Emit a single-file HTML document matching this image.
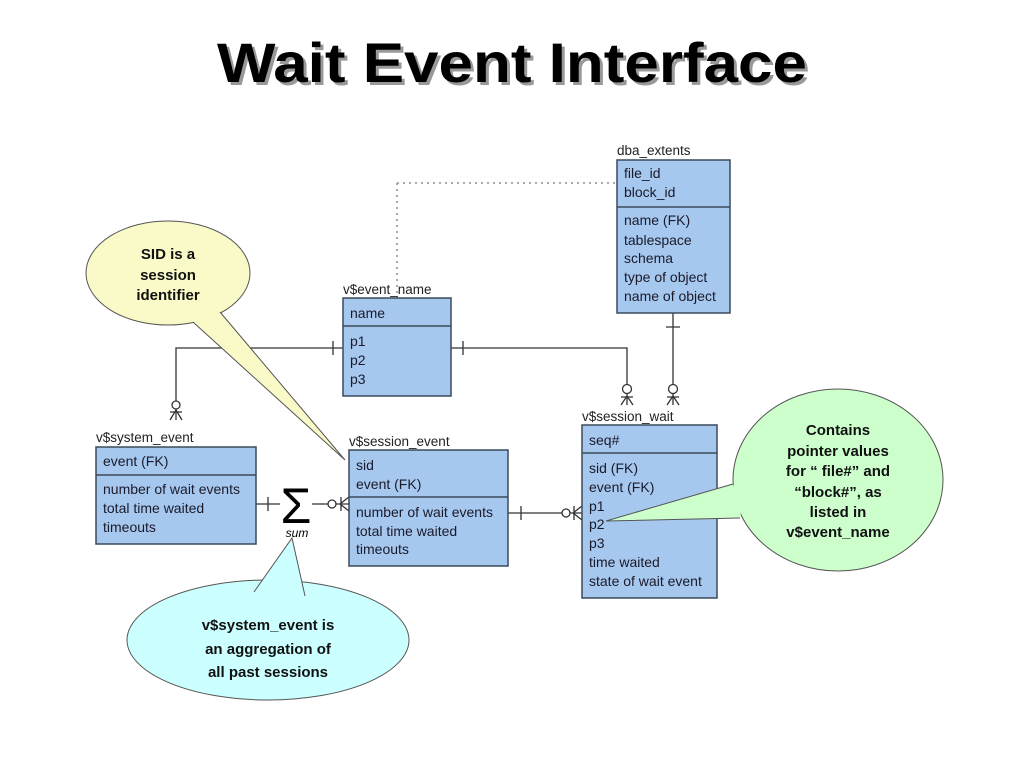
<!DOCTYPE html>
<html><head><meta charset="utf-8"><style>
html,body{margin:0;padding:0;background:#fff;}
svg{display:block;}
text{font-family:"Liberation Sans",sans-serif;}
.t{font-size:14px;fill:#1a1a2a;}
.l{font-size:13.5px;fill:#222;}
.b{fill:#a6c8ef;stroke:#3a4a5a;stroke-width:1.5;}
.ln{stroke:#333;stroke-width:1.3;fill:none;}
.c{font-size:15px;font-weight:bold;fill:#111;text-anchor:middle;}
</style></head><body>
<svg width="1024" height="768" viewBox="0 0 1024 768" xmlns="http://www.w3.org/2000/svg">
<text x="515" y="85" font-size="56" font-weight="bold" fill="#999" text-anchor="middle" textLength="590" lengthAdjust="spacingAndGlyphs">Wait Event Interface</text>
<text x="512" y="82" font-size="56" font-weight="bold" fill="#000" text-anchor="middle" textLength="590" lengthAdjust="spacingAndGlyphs">Wait Event Interface</text>

<!-- dotted -->
<path d="M397,183 H617 M397,183 V298" stroke="#aaa" stroke-width="2" stroke-dasharray="2,4" fill="none"/>

<!-- connectors -->
<path class="ln" d="M343,348 H176 V420 M333,341 V355 M170,420 L176,410 L182,420 M170,412 H182"/>
<circle cx="176" cy="405" r="4" fill="#fff" stroke="#333" stroke-width="1.3"/>
<path class="ln" d="M451,348 H627 V405 M463,341 V355 M621,397 H633"/>
<circle cx="627" cy="389" r="4.5" fill="#fff" stroke="#333" stroke-width="1.3"/>
<path class="ln" d="M621,405 L627,396 L633,405"/>
<path class="ln" d="M673,313 V405 M666,327 H680 M667,397 H679"/>
<circle cx="673" cy="389" r="4.5" fill="#fff" stroke="#333" stroke-width="1.3"/>
<path class="ln" d="M667,405 L673,396 L679,405"/>
<path class="ln" d="M256,504 H280 M312,504 H349 M268,497 V511 M349,497 L340,504 L349,511 M341,497 V511"/>
<circle cx="332" cy="504" r="4" fill="#fff" stroke="#333" stroke-width="1.3"/>
<text x="296" y="523" font-size="50" text-anchor="middle" font-family="Liberation Serif,serif">Σ</text>
<text x="297" y="537" font-size="12" font-style="italic" text-anchor="middle">sum</text>
<path class="ln" d="M508,513 H582 M521,506 V520 M582,506 L573,513 L582,520 M574,506 V520"/>
<circle cx="566" cy="513" r="4" fill="#fff" stroke="#333" stroke-width="1.3"/>

<!-- dba_extents -->
<text class="l" x="617" y="155">dba_extents</text>
<rect class="b" x="617" y="160" width="113" height="153"/>
<line x1="617" y1="207" x2="730" y2="207" stroke="#3a4a5a" stroke-width="1.5"/>
<text class="t" x="624" y="178">file_id</text><text class="t" x="624" y="197">block_id</text>
<text class="t" x="624" y="225">name (FK)</text><text class="t" x="624" y="245">tablespace</text>
<text class="t" x="624" y="263">schema</text><text class="t" x="624" y="282">type of object</text>
<text class="t" x="624" y="301">name of object</text>

<!-- v$event_name -->
<text class="l" x="343" y="294">v$event_name</text>
<rect class="b" x="343" y="298" width="108" height="98"/>
<line x1="343" y1="326" x2="451" y2="326" stroke="#3a4a5a" stroke-width="1.5"/>
<text class="t" x="350" y="318">name</text>
<text class="t" x="350" y="346">p1</text><text class="t" x="350" y="365">p2</text><text class="t" x="350" y="384">p3</text>

<!-- v$system_event -->
<text class="l" x="96" y="442">v$system_event</text>
<rect class="b" x="96" y="447" width="160" height="97"/>
<line x1="96" y1="475" x2="256" y2="475" stroke="#3a4a5a" stroke-width="1.5"/>
<text class="t" x="103" y="466">event (FK)</text>
<text class="t" x="103" y="494">number of wait events</text><text class="t" x="103" y="513">total time waited</text><text class="t" x="103" y="532">timeouts</text>

<!-- v$session_event -->
<text class="l" x="349" y="446">v$session_event</text>
<rect class="b" x="349" y="450" width="159" height="116"/>
<line x1="349" y1="497" x2="508" y2="497" stroke="#3a4a5a" stroke-width="1.5"/>
<text class="t" x="356" y="470">sid</text><text class="t" x="356" y="489">event (FK)</text>
<text class="t" x="356" y="517">number of wait events</text><text class="t" x="356" y="536">total time waited</text><text class="t" x="356" y="554">timeouts</text>

<!-- v$session_wait -->
<text class="l" x="582" y="421">v$session_wait</text>
<rect class="b" x="582" y="425" width="135" height="173"/>
<line x1="582" y1="453" x2="717" y2="453" stroke="#3a4a5a" stroke-width="1.5"/>
<text class="t" x="589" y="445">seq#</text>
<text class="t" x="589" y="473">sid (FK)</text><text class="t" x="589" y="492">event (FK)</text>
<text class="t" x="589" y="511">p1</text><text class="t" x="589" y="529">p2</text><text class="t" x="589" y="548">p3</text>
<text class="t" x="589" y="567">time waited</text><text class="t" x="589" y="586">state of wait event</text>

<!-- yellow callout -->
<ellipse cx="168" cy="273" rx="82" ry="52" fill="#fafac8" stroke="#555" stroke-width="1"/>
<path d="M193,322 L345,460 L220,312" fill="#fafac8" stroke="#555" stroke-width="1"/>
<path d="M195,320 L218,313" stroke="#fafac8" stroke-width="3"/>
<text class="c" x="168" y="259">SID is a</text><text class="c" x="168" y="280">session</text><text class="c" x="168" y="300">identifier</text>

<!-- blue callout -->
<ellipse cx="268" cy="640" rx="141" ry="60" fill="#ccffff" stroke="#555" stroke-width="1"/>
<path d="M254,592 L292,538 L305,596" fill="#ccffff" stroke="#555" stroke-width="1"/>
<path d="M256,592 L303,595" stroke="#ccffff" stroke-width="3"/>
<text class="c" x="268" y="630" font-size="17">v$system_event is</text>
<text class="c" x="268" y="654" font-size="17">an aggregation of</text>
<text class="c" x="268" y="677" font-size="17">all past sessions</text>

<!-- green callout -->
<ellipse cx="838" cy="480" rx="105" ry="91" fill="#ccffcc" stroke="#555" stroke-width="1"/>
<path d="M733,484 L606,521 L740,518" fill="#ccffcc" stroke="#555" stroke-width="1"/>
<path d="M734,486 L739,516" stroke="#ccffcc" stroke-width="4"/>
<text class="c" x="838" y="435">Contains</text>
<text class="c" x="838" y="456">pointer values</text>
<text class="c" x="838" y="476">for “ file#” and</text>
<text class="c" x="838" y="497">“block#”, as</text>
<text class="c" x="838" y="517">listed in</text>
<text class="c" x="838" y="537">v$event_name</text>
</svg>
</body></html>
